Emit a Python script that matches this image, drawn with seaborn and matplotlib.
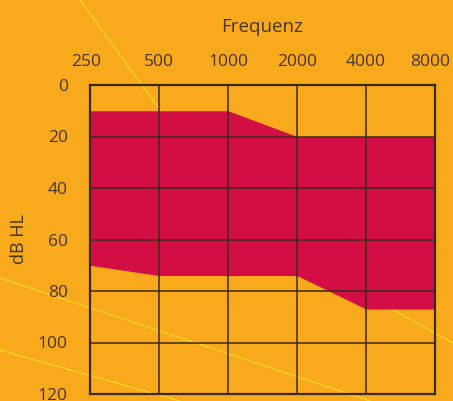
import numpy as np
import pandas as pd
import seaborn as sns
from matplotlib import pyplot as plt
from matplotlib.lines import Line2D
from matplotlib.transforms import ScaledTranslation

# valores del audiograma (banana del habla)
frecuencias = [250, 500, 1000, 2000, 4000, 8000]
etiquetas_x = ['250', '500', '1000', '2000', '4000', '8000']
limite_superior = [10, 10, 10, 20, 20, 20]
limite_inferior = [70, 74, 74, 74, 87, 87]
ticks_y = [0, 20, 40, 60, 80, 100, 120]

fondo = '#F9A91C'
rojo = '#D20E45'
texto = '#4A3520'
linea = '#3A2A1C'

sns.set_theme(style='white')
plt.rcParams['font.family'] = ['Open Sans', 'DejaVu Sans']

datos = pd.DataFrame({'frecuencia': frecuencias,
                      'superior': limite_superior,
                      'inferior': limite_inferior})

fig = plt.figure(figsize=(4.53, 4.01), dpi=100, facecolor=fondo)

# lineas decorativas del fondo (amarillas)
for x0, y0, x1, y1 in [(80, 0, 160, 110), (0, 278, 370, 401), (0, 350, 180, 401), (330, 275, 453, 343)]:
    fig.add_artist(Line2D([x0 / 453, x1 / 453], [1 - y0 / 401, 1 - y1 / 401],
                          color='#FFD21F', lw=1.0, zorder=0))

ax = fig.add_axes([90 / 453, 1 - 394 / 401, 345 / 453, 309 / 401])
ax.patch.set_alpha(0)

sns.lineplot(data=datos, x='frecuencia', y='superior', ax=ax, color=rojo, lw=0)
sns.lineplot(data=datos, x='frecuencia', y='inferior', ax=ax, color=rojo, lw=0)
ax.fill_between(datos['frecuencia'], datos['superior'], datos['inferior'],
                color=rojo, lw=0, zorder=1)

ax.set_xscale('log', base=2)
ax.set_xlim(250, 8000)
ax.set_ylim(120, 0)
ax.set_xticks(frecuencias)
ax.set_xticklabels(etiquetas_x)
ax.minorticks_off()
ax.set_yticks(ticks_y)
ax.xaxis.tick_top()
ax.xaxis.set_label_position('top')

ax.grid(True, color=linea, lw=1.1)
ax.set_axisbelow(False)
for s in ax.spines.values():
    s.set_color(linea)
    s.set_linewidth(1.6)

ax.tick_params(axis='x', length=0, pad=11, labelsize=12.5, colors=texto)
ax.tick_params(axis='y', length=0, pad=16, labelsize=12.5, colors=texto)
ax.set_xlabel('Frequenz', fontsize=13.5, color=texto, labelpad=16)
ax.set_ylabel('dB HL', fontsize=13, color=texto, labelpad=7)

# los extremos se desplazan un poco hacia dentro, como en el original
etq = ax.get_xticklabels()
etq[0].set_transform(etq[0].get_transform() + ScaledTranslation(-4 / 100, 0, fig.dpi_scale_trans))
etq[-1].set_transform(etq[-1].get_transform() + ScaledTranslation(-5 / 100, 0, fig.dpi_scale_trans))

plt.savefig('out.png', dpi=100, facecolor=fondo)
